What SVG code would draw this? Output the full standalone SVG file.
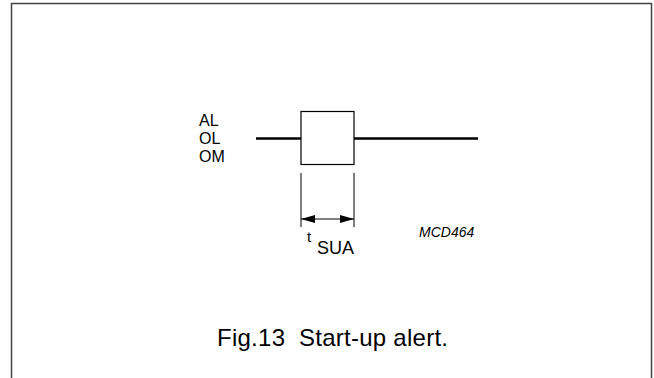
<svg xmlns="http://www.w3.org/2000/svg" width="654" height="378" viewBox="0 0 654 378">
<style>
text{font-family:"Liberation Sans",Arial,sans-serif;fill:#000}
.sig{stroke:#000;stroke-width:2.5;fill:none}
.thin{stroke:#000;stroke-width:1;fill:none}
</style>
<defs>
<marker id="ah" viewBox="0 0 14 8" refX="14" refY="4" markerWidth="14" markerHeight="8" markerUnits="userSpaceOnUse" orient="auto-start-reverse">
<path d="M0,0 L14,4 L0,8 Z" fill="#000"/>
</marker>
</defs>
<rect width="654" height="378" fill="#fff"/>
<path d="M11.5,378 V3.5 H651.5 V378" stroke="#444" stroke-width="1.5" fill="none"/>
<g id="labels">
<text x="199" y="126" font-size="16">AL</text>
<text x="199" y="144" font-size="16">OL</text>
<text x="199" y="162" font-size="16">OM</text>
</g>
<g id="signal">
<path class="sig" d="M256,138.5 H301 M354,138.5 H478"/>
<rect x="301" y="111.5" width="53" height="53" stroke="#000" stroke-width="1.2" fill="#fff"/>
</g>
<g id="connectors">
<path class="thin" d="M301,173 V227 M354,173 V227"/>
<path class="thin" d="M301,219 H354" marker-start="url(#ah)" marker-end="url(#ah)"/>
</g>
<g id="tsua">
<text x="307" y="242" font-size="15">t</text>
<text x="317" y="254" font-size="18">SUA</text>
</g>
<text x="419" y="237" font-size="14" font-style="italic">MCD464</text>
<text x="217" y="346" font-size="24" textLength="231" xml:space="preserve">Fig.13  Start-up alert.</text>
</svg>
